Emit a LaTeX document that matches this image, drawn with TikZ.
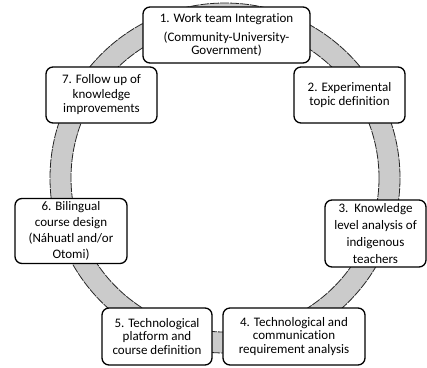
\documentclass[tikz,border=0pt]{standalone}
\usepackage{fontspec}
\setmainfont[Ligatures=NoCommon]{Carlito}
\definecolor{ringfill}{HTML}{CBCBCB}
\begin{document}
\begin{tikzpicture}[x=1pt,y=-1pt,
  box/.style={draw=black, line width=1.3pt, rounded corners=7pt, fill=white,
    align=center, inner sep=0pt, font=\fontsize{13}{14.5}\selectfont},
  ringedge/.style={draw=black!85, line width=0.8pt, dash pattern=on 9pt off 1pt}]
\useasboundingbox (0,0) rectangle (427,367);
% ring
\fill[ringfill, even odd rule] (225,178) circle[radius=175] (225,178) circle[radius=154];
\draw[ringedge] (225,178) circle[radius=175];
\draw[ringedge] (225,178) circle[radius=154];
% boxes
\node[box, minimum width=167pt, minimum height=56pt] (b1) at (226.5,35)
  {1. Work team Integration\\[5pt](Community-University-\\[-1.5pt]Government)};
\node[box, minimum width=111pt, minimum height=56pt] (b2) at (349.5,95)
  {2. Experimental\\topic definition};
\node[box, minimum width=101pt, minimum height=67pt,
  font=\fontsize{13}{17}\selectfont] (b3) at (375.5,233.5)
  {3.\ \ Knowledge\\level analysis of\\indigenous\\teachers};
\node[box, minimum width=142pt, minimum height=57pt,
  font=\fontsize{13}{13.7}\selectfont] (b4) at (294,336.5)
  {4. Technological and\\communication\\requirement analysis};
\node[box, minimum width=110pt, minimum height=57pt,
  font=\fontsize{13}{13.7}\selectfont] (b5) at (157,336.5)
  {5. Technological\\platform and\\course definition};
\node[box, minimum width=112pt, minimum height=65pt,
  font=\fontsize{13}{16}\selectfont] (b6) at (71,231)
  {6. Bilingual\\course design\\(Náhuatl and/or\\Otomi)};
\node[box, minimum width=111pt, minimum height=56pt] (b7) at (101.5,95)
  {7. Follow up of\\knowledge\\improvements};
\end{tikzpicture}
\end{document}
